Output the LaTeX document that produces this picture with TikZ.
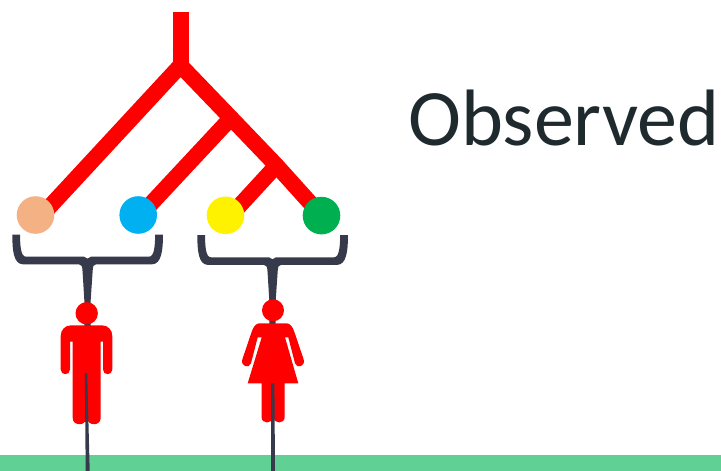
\documentclass[tikz,border=0pt]{standalone}
\usepackage{fontspec}
\setmainfont{Carlito}
\usetikzlibrary{positioning}
\definecolor{treered}{HTML}{FF0000}
\definecolor{slate}{HTML}{373A4A}
\definecolor{ground}{HTML}{61D095}
\definecolor{inktext}{HTML}{1F2A2E}
\tikzset{
  branch/.style={draw=treered,line width=16pt},
  tip/.style={circle,minimum size=37.6pt,inner sep=0pt},
  figure/.style={fill=treered},
  brace/.style={fill=slate},
}
\begin{document}
\begin{tikzpicture}[x=1pt,y=-1pt]
\useasboundingbox (0,0) rectangle (721,471);
\fill[ground] (0,455) rectangle (721,471);
% tree
\coordinate (top) at (180.5,12);
\coordinate (root) at (180.5,65.5);
\coordinate (splita) at (231,118);
\coordinate (splitb) at (276.5,165.5);
\coordinate (foota) at (42,215);
\coordinate (footb) at (140.5,215);
\coordinate (footc) at (231,215);
\draw[branch] (top)--(root);
\draw[branch,line join=miter] (foota)--(root)--(splita)--(splitb)--(321.5,215.5);
\draw[branch] (splita)--(footb);
\draw[branch] (splitb)--(footc);
\node[tip,fill={rgb,255:red,244;green,177;blue,131}] (peach) at (35.5,215) {};
\node[tip,fill={rgb,255:red,0;green,176;blue,240}] (sky) at (138.2,215) {};
\node[tip,fill=yellow] (lemon) at (225.5,215.3) {};
\node[tip,fill={rgb,255:red,0;green,176;blue,80}] (leaf) at (321.5,215.6) {};
% braces
\foreach \dx/\dy in {0/0,185/.6}{
\fill[brace,shift={(\dx,\dy)}] (12.3,234.5)--(20,234.5) .. controls (20.2,245) and (20.5,256.7) .. (26,256.7)
  --(84,256.7)--(87.5,258.6)--(91,256.7)--(149,256.7) .. controls (154.5,256.7) and (155,245) .. (155.2,234.5)
  --(163,234.5) .. controls (163,250) and (161.5,264.3) .. (152,264.3)--(96,264.3) .. controls (93.5,264.3) and (92.8,266) .. (92.6,272)
  --(90.7,300)--(90.7,330)--(84.3,330)--(84.3,300)--(82.6,272) .. controls (82.3,266) and (81.5,264.3) .. (79,264.3)
  --(23,264.3) .. controls (13.5,264.3) and (12.3,250) .. cycle;
}
% man
\node[circle,figure,minimum size=22.4pt,inner sep=0pt] (manhead) at (86.7,313.3) {};
\fill[figure] (71,325.3)--(102,325.3) .. controls (108,325.3) and (112.3,330) .. (112.3,336)
  --(112.3,369.5) .. controls (112.3,375.7) and (103,375.7) .. (103,369.5)--(103,341.7)--(100.7,341.7)
  --(100.7,418) .. controls (100.7,426.3) and (87.2,426.3) .. (87.2,418)--(86.2,418)
  .. controls (86.2,426.3) and (72.7,426.3) .. (72.7,418)--(72.7,341.7)--(70,341.7)
  --(70,369.5) .. controls (70,375.7) and (60.7,375.7) .. (60.7,369.5)--(60.7,336) .. controls (60.7,330) and (65,325.3) .. (71,325.3)--cycle;
% woman
\node[circle,figure,minimum size=22pt,inner sep=0pt] (womanhead) at (273,310.3) {};
\fill[figure] (259.3,323.3)--(286.7,323.3) .. controls (290,323.3) and (292.8,327) .. (294.3,331.7)
  --(303.7,359.5) .. controls (305.5,366.5) and (297,369) .. (295,363.3)--(288.3,337.3)--(285,337.3)
  --(298.3,383.3)--(284.7,383.3)--(284.7,417) .. controls (284.7,424.3) and (273.6,424.3) .. (273.6,417)--(272.6,417)
  .. controls (272.6,424.3) and (261.5,424.3) .. (261.5,417)--(261.5,383.3)--(247.7,383.3)--(261.7,337.3)--(257.7,337.3)
  --(251,363.3) .. controls (249,369) and (240.5,366.5) .. (242.3,359.5)--(251.7,331.7) .. controls (253.2,327) and (256,323.3) .. (259.3,323.3)--cycle;
% lines to the ground
\fill[brace] (84.8,373)--(87.2,373)--(89.7,471)--(85.7,471)--cycle;
\fill[brace] (271,383.3)--(274.4,383.3)--(275,471)--(271,471)--cycle;
\node[text=inktext,font=\fontsize{80}{80}\selectfont,anchor=base west,inner sep=0pt] (observed) at (408,145) {Observed};
\end{tikzpicture}
\end{document}
